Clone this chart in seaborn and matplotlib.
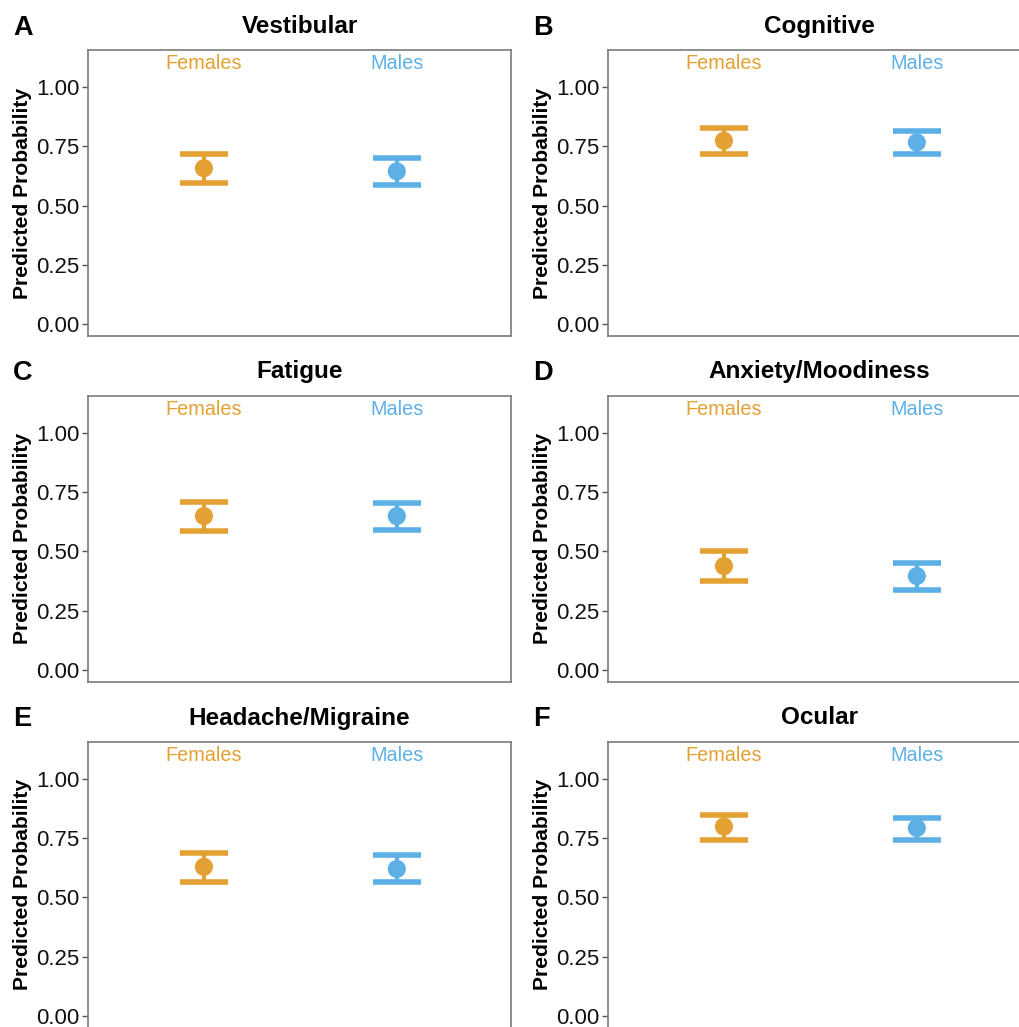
import matplotlib
matplotlib.use("Agg")
import matplotlib.pyplot as plt
import seaborn as sns
import pandas as pd

# Predicted probabilities (point estimate, lower and upper CI) by sex
panels = ["A", "B", "C", "D", "E", "F"]
titles = ["Vestibular", "Cognitive", "Fatigue", "Anxiety/Moodiness",
          "Headache/Migraine", "Ocular"]
sexes = ["Females", "Males"]

female_est = [0.658, 0.774, 0.649, 0.438, 0.629, 0.799]
female_lo = [0.596, 0.716, 0.588, 0.375, 0.565, 0.741]
female_hi = [0.720, 0.828, 0.709, 0.502, 0.689, 0.846]

male_est = [0.645, 0.767, 0.649, 0.396, 0.620, 0.793]
male_lo = [0.586, 0.716, 0.592, 0.337, 0.564, 0.743]
male_hi = [0.703, 0.816, 0.704, 0.452, 0.677, 0.837]

yticks = [0.00, 0.25, 0.50, 0.75, 1.00]
ytick_labels = ["0.00", "0.25", "0.50", "0.75", "1.00"]

palette = {"Females": "#E3A033", "Males": "#5DB0E6"}

sns.set_theme(style="white")
plt.rcParams["font.family"] = ["Liberation Sans", "DejaVu Sans"]
plt.rcParams["text.color"] = "black"

W, H = 1019, 1027
fig = plt.figure(figsize=(W / 100, H / 100), dpi=100)

col_left = [88, 608]
row_top = [50, 395.7, 741.7]
title_y = [26, 371.7, 718]
letter_y = [28, 373, 719]
box_w, box_h = 423, 286

border_col = "#7a7a7a"

for i, (letter, title) in enumerate(zip(panels, titles)):
    r, c = divmod(i, 2)
    left = col_left[c]
    top = row_top[r]
    ax = fig.add_axes([left / W, 1 - (top + box_h) / H, box_w / W, box_h / H])

    df = pd.DataFrame({
        "sex": sexes,
        "est": [female_est[i], male_est[i]],
        "lo": [female_lo[i], male_lo[i]],
        "hi": [female_hi[i], male_hi[i]],
    })
    df["x"] = range(len(df))

    for _, row in df.iterrows():
        col = palette[row["sex"]]
        ax.vlines(row["x"], row["lo"], row["hi"], color=col, lw=3.0, zorder=2)
        ax.hlines([row["lo"], row["hi"]], row["x"] - 0.124, row["x"] + 0.124,
                  color=col, lw=4.0, capstyle="butt", zorder=2)
        ax.text(row["x"], 1.10, row["sex"], color=col, ha="center", va="center",
                fontsize=14.3)

    sns.scatterplot(data=df, x="x", y="est", hue="sex", palette=palette,
                    s=170, edgecolor="none", legend=False, ax=ax, zorder=3)

    ax.set_xlim(-0.601, 1.592)
    ax.set_ylim(-0.05, 1.157)
    ax.set_xticks([])
    ax.set_yticks(yticks)
    ax.set_yticklabels(ytick_labels, fontsize=16, color="#111111")
    ax.tick_params(axis="y", left=True, length=4, width=1, color="#555555", pad=2)
    ax.set_xlabel("")
    ax.set_ylabel("Predicted Probability", fontsize=15.2, fontweight="bold",
                  color="black")
    ax.yaxis.set_label_coords(-56 / box_w, 0.5)
    for sp in ax.spines.values():
        sp.set_visible(True)
        sp.set_color(border_col)
        sp.set_linewidth(1.2)

    ax.set_title(title, fontsize=17.5, fontweight="bold", color="black", pad=0,
                 y=1 + (top - title_y[r]) / box_h, va="center")
    fig.text((col_left[c] - 75) / W, 1 - letter_y[r] / H, letter,
             fontsize=19.5, fontweight="bold", ha="left", va="center")

fig.savefig("out.png", dpi=100)
